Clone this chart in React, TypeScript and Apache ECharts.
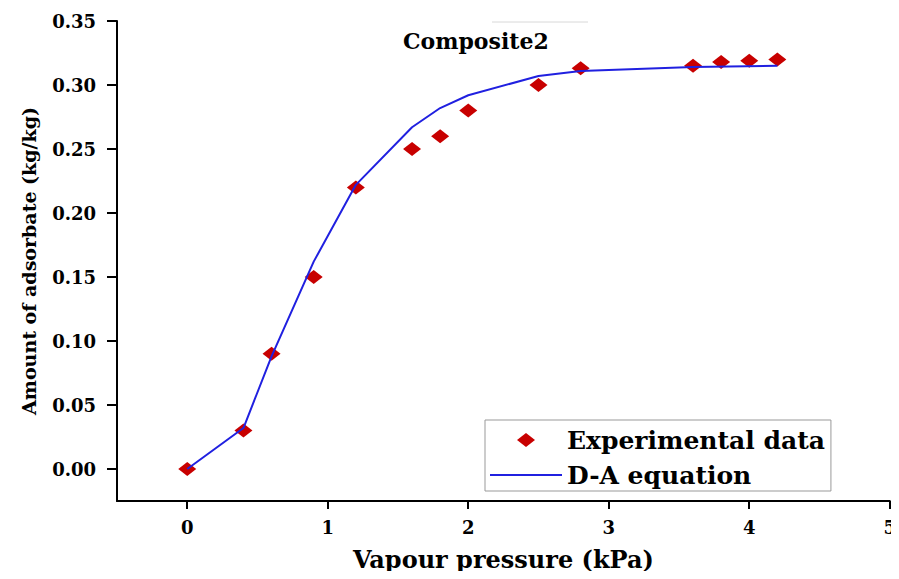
import React, { useEffect, useRef } from "react";
import * as echarts from "echarts";

const expX = [0, 0.4, 0.6, 0.9, 1.2, 1.6, 1.8, 2.0, 2.5, 2.8, 3.6, 3.8, 4.0, 4.2];
const expY = [0, 0.03, 0.09, 0.15, 0.22, 0.25, 0.26, 0.28, 0.3, 0.313, 0.315, 0.318, 0.319, 0.32];

const daX = [0, 0.4, 0.6, 0.9, 1.2, 1.6, 1.8, 2.0, 2.5, 2.8, 3.6, 4.2];
const daY = [0, 0.032, 0.088, 0.162, 0.222, 0.267, 0.282, 0.292, 0.307, 0.311, 0.314, 0.315];

const xTicks = [0, 1, 2, 3, 4, 5];
const yTicks = [0, 0.05, 0.1, 0.15, 0.2, 0.25, 0.3, 0.35];

const FONT = "DejaVu Serif";
const RED = "#c80000";
const BLUE = "#2020e0";

export default function App() {
  const ref = useRef<HTMLDivElement>(null);
  useEffect(() => {
    if (!ref.current) return;
    const chart = echarts.init(ref.current, null, { renderer: "svg" });
    const expData = expX.map((x, i) => [x, expY[i]]);
    const daData = daX.map((x, i) => [x, daY[i]]);
    chart.setOption({
      animation: false,
      backgroundColor: "#ffffff",
      title: {
        text: "Composite2",
        left: 403,
        top: 30,
        padding: 0,
        textStyle: { fontFamily: FONT, fontWeight: "bold", fontSize: 22, color: "#000" },
      },
      grid: { left: 117, right: 7, top: 21, bottom: 78, containLabel: false },
      xAxis: {
        type: "value",
        min: -0.5,
        max: 5,
        name: "Vapour pressure (kPa)",
        nameLocation: "middle",
        nameGap: 46,
        nameTextStyle: { fontFamily: FONT, fontWeight: "bold", fontSize: 24, color: "#000" },
        axisLine: { show: true, onZero: false, lineStyle: { color: "#000", width: 2 } },
        axisTick: { show: true, inside: false, length: 8, customValues: xTicks, lineStyle: { color: "#000", width: 2 } },
        axisLabel: {
          customValues: xTicks,
          margin: 17,
          fontFamily: FONT,
          fontWeight: "bold",
          fontSize: 18,
          color: "#000",
          formatter: (v: number) => String(v),
        },
        splitLine: { show: false },
      },
      yAxis: {
        type: "value",
        min: -0.025,
        max: 0.35,
        name: "Amount of adsorbate (kg/kg)",
        nameLocation: "middle",
        nameRotate: 90,
        nameGap: 79,
        nameTextStyle: { fontFamily: FONT, fontWeight: "bold", fontSize: 19, color: "#000" },
        axisLine: { show: true, onZero: false, lineStyle: { color: "#000", width: 2 } },
        axisTick: { show: true, inside: false, length: 10, customValues: yTicks, lineStyle: { color: "#000", width: 2 } },
        axisLabel: {
          customValues: yTicks,
          margin: 21,
          fontFamily: FONT,
          fontWeight: "bold",
          fontSize: 18,
          color: "#000",
          formatter: (v: number) => v.toFixed(2),
        },
        splitLine: { show: false },
      },
      legend: {
        orient: "vertical",
        left: 485,
        top: 420,
        padding: [6, 6, 2, 5],
        itemGap: 7,
        itemWidth: 72,
        itemHeight: 14,
        symbolKeepAspect: true,
        borderColor: "#999",
        borderWidth: 1,
        backgroundColor: "#fff",
        textStyle: { fontFamily: FONT, fontWeight: "bold", fontSize: 25, color: "#000", lineHeight: 28 },
        data: [
          {
            name: "Experimental data",
            icon: "path://M0,7L9,0L18,7L9,14Z",
            itemStyle: { color: RED, opacity: 1, borderWidth: 0 },
          },
          {
            name: "D-A equation",
            icon: "path://M0,0H72V2H0Z",
            itemStyle: { color: BLUE, opacity: 1, borderWidth: 0 },
          },
        ],
      },
      graphic: [
        {
          type: "line",
          shape: { x1: 492, y1: 22, x2: 588, y2: 22 },
          style: { stroke: "#d8d8d8", lineWidth: 1 },
          silent: true,
        },
      ],
      series: [
        {
          name: "Experimental data",
          type: "scatter",
          data: expData,
          symbol: "diamond",
          symbolSize: [18, 14],
          itemStyle: { color: RED, opacity: 1 },
          z: 2,
        },
        {
          name: "D-A equation",
          type: "line",
          data: daData,
          symbol: "none",
          showSymbol: false,
          smooth: false,
          lineStyle: { color: BLUE, width: 2 },
          itemStyle: { color: BLUE },
          z: 3,
        },
      ],
    });
    return () => chart.dispose();
  }, []);
  return <div ref={ref} style={{ width: 899, height: 579, margin: -8 }} />;
}
